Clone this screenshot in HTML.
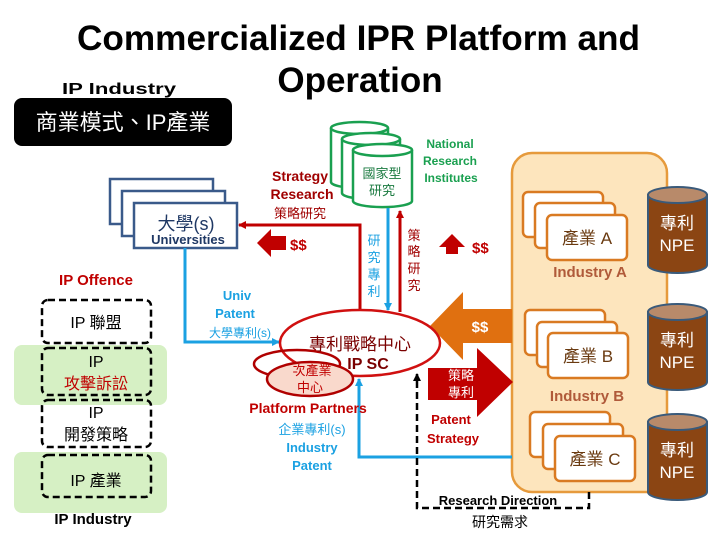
<!DOCTYPE html>
<html><head><meta charset="utf-8"><style>
body{margin:0;background:#fff}
svg{display:block}
text{font-family:"Liberation Sans","Noto Sans CJK TC",sans-serif}
</style></head><body>
<svg width="720" height="540" viewBox="0 0 720 540" xmlns="http://www.w3.org/2000/svg">
<defs>
<marker id="ab" markerWidth="8" markerHeight="8" refX="7" refY="4" orient="auto" markerUnits="userSpaceOnUse"><path d="M0,0 L8,4 L0,8 Z" fill="#1ba1e2"/></marker>
<marker id="ar" markerWidth="8" markerHeight="8" refX="7" refY="4" orient="auto" markerUnits="userSpaceOnUse"><path d="M0,0 L8,4 L0,8 Z" fill="#c00000"/></marker>
<marker id="ak" markerWidth="8" markerHeight="8" refX="7" refY="4" orient="auto" markerUnits="userSpaceOnUse"><path d="M0,0 L8,4 L0,8 Z" fill="#000"/></marker>
</defs>
<text x="77" y="50" font-size="35" font-weight="bold" textLength="563" lengthAdjust="spacingAndGlyphs">Commercialized IPR Platform and</text>
<text x="360" y="92" font-size="35" font-weight="bold" text-anchor="middle">Operation</text>
<text x="62" y="94" font-size="16" font-weight="bold" textLength="114" lengthAdjust="spacingAndGlyphs">IP Industry</text>
<rect x="14" y="98" width="218" height="48" rx="8" fill="#000"/>
<text x="123" y="130" font-size="22" fill="#fff" text-anchor="middle">商業模式、IP產業</text>

<g fill="#fff" stroke="#3a5a8a" stroke-width="2.5">
<rect x="110" y="179" width="103" height="45"/>
<rect x="122" y="191" width="103" height="45"/>
<rect x="134" y="203" width="103" height="45"/>
</g>
<text x="186" y="230" font-size="18" fill="#1f3864" text-anchor="middle">大學(s)</text>
<text x="188" y="244" font-size="13" font-weight="bold" fill="#1f3864" text-anchor="middle">Universities</text>

<text x="96" y="285" font-size="15" font-weight="bold" fill="#c00000" text-anchor="middle">IP Offence</text>
<rect x="14" y="345" width="153" height="60" rx="8" fill="#d6f0c4"/>
<rect x="14" y="452" width="153" height="61" rx="8" fill="#d6f0c4"/>
<g fill="none" stroke="#000" stroke-width="2.5" stroke-dasharray="7,4">
<rect x="42" y="300" width="109" height="43" rx="6"/>
<rect x="42" y="348" width="109" height="47" rx="6"/>
<rect x="42" y="400" width="109" height="47" rx="6"/>
<rect x="42" y="455" width="109" height="42" rx="6"/>
</g>
<text x="96" y="328" font-size="16" text-anchor="middle">IP 聯盟</text>
<text x="96" y="367" font-size="16" text-anchor="middle">IP</text>
<text x="96" y="389" font-size="16" fill="#c00000" text-anchor="middle">攻擊訴訟</text>
<text x="96" y="418" font-size="16" text-anchor="middle">IP</text>
<text x="96" y="440" font-size="16" text-anchor="middle">開發策略</text>
<text x="96" y="486" font-size="16" text-anchor="middle">IP 產業</text>
<text x="93" y="524" font-size="15" font-weight="bold" text-anchor="middle">IP Industry</text>

<path d="M360,312 L360,225 L239,225" fill="none" stroke="#c00000" stroke-width="3" marker-end="url(#ar)"/>
<path d="M257,243 L271,229 L271,236 L286,236 L286,250 L271,250 L271,257 Z" fill="#c00000"/>
<text x="290" y="250" font-size="15" font-weight="bold" fill="#c00000">$$</text>
<text x="300" y="181" font-size="14" font-weight="bold" fill="#a00000" text-anchor="middle">Strategy</text>
<text x="302" y="199" font-size="14" font-weight="bold" fill="#a00000" text-anchor="middle">Research</text>
<text x="300" y="218" font-size="13" fill="#a00000" text-anchor="middle">策略研究</text>

<path d="M185,248 L185,342 L279,342" fill="none" stroke="#1ba1e2" stroke-width="3" marker-end="url(#ab)"/>
<text x="237" y="300" font-size="13" font-weight="bold" fill="#1ba1e2" text-anchor="middle">Univ</text>
<text x="235" y="318" font-size="13" font-weight="bold" fill="#1ba1e2" text-anchor="middle">Patent</text>
<text x="240" y="337" font-size="12" fill="#1ba1e2" text-anchor="middle">大學專利(s)</text>

<g fill="#fff" stroke="#1aa050" stroke-width="2.5">
<path d="M331,128 L331,182 A28,6 0 0 0 388,182 L388,128"/><ellipse cx="359.5" cy="128" rx="28.5" ry="6"/>
<path d="M342,139 L342,193 A28,6 0 0 0 400,193 L400,139"/><ellipse cx="371" cy="139" rx="29" ry="6"/>
<path d="M353,150 L353,201 A29,6 0 0 0 412,201 L412,150"/><ellipse cx="382.5" cy="150" rx="29.5" ry="6"/>
</g>
<text x="382" y="178" font-size="13" fill="#1a7a40" text-anchor="middle">國家型</text>
<text x="382" y="195" font-size="13" fill="#1a7a40" text-anchor="middle">研究</text>
<text x="450" y="148" font-size="12" font-weight="bold" fill="#1aa050" text-anchor="middle">National</text>
<text x="450" y="165" font-size="12" font-weight="bold" fill="#1aa050" text-anchor="middle">Research</text>
<text x="451" y="182" font-size="12" font-weight="bold" fill="#1aa050" text-anchor="middle">Institutes</text>
<path d="M388,208 L388,310" stroke="#1ba1e2" stroke-width="3" marker-end="url(#ab)"/>
<path d="M400,312 L400,211" stroke="#c00000" stroke-width="3" marker-end="url(#ar)"/>
<g font-size="13" fill="#1ba1e2" text-anchor="middle"><text x="374" y="245">研</text><text x="374" y="262">究</text><text x="374" y="279">專</text><text x="374" y="296">利</text></g>
<g font-size="13" fill="#a00000" text-anchor="middle"><text x="414" y="240">策</text><text x="414" y="256">略</text><text x="414" y="273">研</text><text x="414" y="290">究</text></g>
<path d="M452,234 L465,247 L458,247 L458,254 L446,254 L446,247 L439,247 Z" fill="#c00000"/>
<text x="472" y="253" font-size="15" font-weight="bold" fill="#c00000">$$</text>

<rect x="512" y="153" width="155" height="339" rx="20" fill="#fde5bd" stroke="#e69a3c" stroke-width="2.5"/>
<g fill="#fff" stroke="#d97a22" stroke-width="2.5">
<rect x="523" y="192" width="80" height="45" rx="5"/><rect x="535" y="203" width="80" height="45" rx="5"/><rect x="547" y="215" width="80" height="45" rx="5"/>
<rect x="525" y="310" width="80" height="45" rx="5"/><rect x="537" y="322" width="80" height="45" rx="5"/><rect x="548" y="333" width="80" height="45" rx="5"/>
<rect x="530" y="412" width="80" height="45" rx="5"/><rect x="543" y="424" width="80" height="45" rx="5"/><rect x="555" y="436" width="80" height="45" rx="5"/>
</g>
<text x="587" y="244" font-size="17" fill="#6a3a10" text-anchor="middle">產業 A</text>
<text x="590" y="277" font-size="15" font-weight="bold" fill="#b05a3a" text-anchor="middle">Industry A</text>
<text x="588" y="362" font-size="17" fill="#6a3a10" text-anchor="middle">產業 B</text>
<text x="587" y="401" font-size="15" font-weight="bold" fill="#b05a3a" text-anchor="middle">Industry B</text>
<text x="595" y="465" font-size="17" fill="#6a3a10" text-anchor="middle">產業 C</text>

<g>
<path d="M648,195 L648,265 A29.5,8 0 0 0 707,265 L707,195 Z" fill="#8b4513" stroke="#3a5a7a" stroke-width="2"/><ellipse cx="677.5" cy="195" rx="29.5" ry="8" fill="#b88a6a" stroke="#3a5a7a" stroke-width="2"/>
<path d="M648,312 L648,382 A29.5,8 0 0 0 707,382 L707,312 Z" fill="#8b4513" stroke="#3a5a7a" stroke-width="2"/><ellipse cx="677.5" cy="312" rx="29.5" ry="8" fill="#b88a6a" stroke="#3a5a7a" stroke-width="2"/>
<path d="M648,422 L648,492 A29.5,8 0 0 0 707,492 L707,422 Z" fill="#8b4513" stroke="#3a5a7a" stroke-width="2"/><ellipse cx="677.5" cy="422" rx="29.5" ry="8" fill="#b88a6a" stroke="#3a5a7a" stroke-width="2"/>
</g>
<g font-size="17" fill="#fff" text-anchor="middle">
<text x="677" y="229">專利</text><text x="677" y="251">NPE</text>
<text x="677" y="346">專利</text><text x="677" y="368">NPE</text>
<text x="677" y="456">專利</text><text x="677" y="478">NPE</text>
</g>

<path d="M512,309 L463,309 L463,292 L430,326 L463,360 L463,343 L512,343 Z" fill="#e07010"/>
<text x="480" y="332" font-size="15" font-weight="bold" fill="#fff" text-anchor="middle">$$</text>
<path d="M428,368 L477,368 L477,348 L513,382 L477,417 L477,400 L428,400 Z" fill="#c00000"/>
<text x="461" y="380" font-size="13" fill="#fff" text-anchor="middle">策略</text>
<text x="461" y="397" font-size="13" fill="#fff" text-anchor="middle">專利</text>
<text x="451" y="424" font-size="13" font-weight="bold" fill="#c00000" text-anchor="middle">Patent</text>
<text x="453" y="443" font-size="13" font-weight="bold" fill="#c00000" text-anchor="middle">Strategy</text>

<path d="M512,457 L359,457 L359,379" fill="none" stroke="#1ba1e2" stroke-width="3" marker-end="url(#ab)"/>
<path d="M589,492 L589,508 L417,508 L417,374" fill="none" stroke="#000" stroke-width="2.5" stroke-dasharray="7,4" marker-end="url(#ak)"/>
<text x="498" y="505" font-size="13" font-weight="bold" text-anchor="middle">Research Direction</text>
<text x="500" y="527" font-size="14" text-anchor="middle">研究需求</text>

<ellipse cx="360" cy="343" rx="80" ry="33" fill="#fff" stroke="#d01010" stroke-width="2.5"/>
<ellipse cx="297" cy="364" rx="43" ry="14" fill="none" stroke="#b00000" stroke-width="2.5"/>
<ellipse cx="310" cy="379" rx="43" ry="17" fill="#f9d9cc" stroke="#b00000" stroke-width="2.5"/>
<text x="360" y="350" font-size="17" fill="#7a0000" text-anchor="middle">專利戰略中心</text>
<text x="368" y="369" font-size="16" font-weight="bold" fill="#7a0000" text-anchor="middle">IP SC</text>
<text x="312" y="375" font-size="13" fill="#c00000" text-anchor="middle">次產業</text>
<text x="310" y="392" font-size="13" fill="#c00000" text-anchor="middle">中心</text>
<text x="308" y="413" font-size="14" font-weight="bold" fill="#c00000" text-anchor="middle">Platform Partners</text>
<text x="312" y="434" font-size="13" fill="#1ba1e2" text-anchor="middle">企業專利(s)</text>
<text x="312" y="452" font-size="13" font-weight="bold" fill="#1ba1e2" text-anchor="middle">Industry</text>
<text x="312" y="470" font-size="13" font-weight="bold" fill="#1ba1e2" text-anchor="middle">Patent</text>
</svg>
</body></html>
